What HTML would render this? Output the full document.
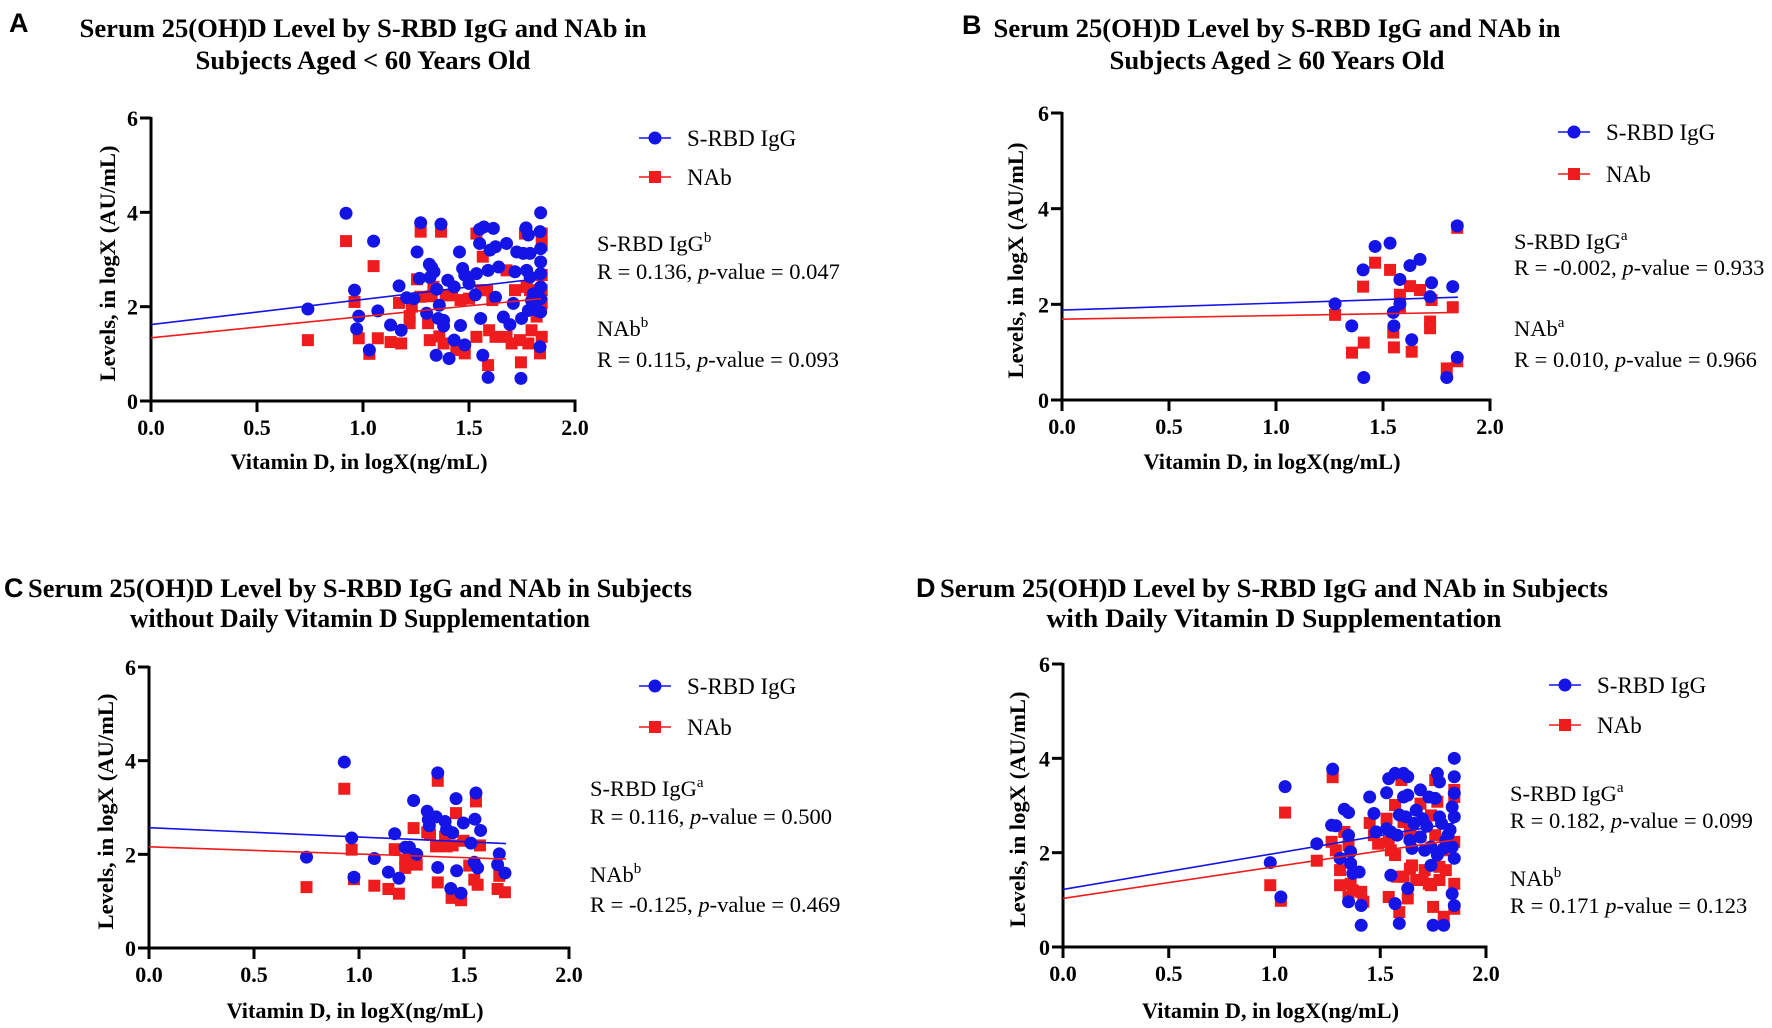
<!DOCTYPE html>
<html><head><meta charset="utf-8"><style>
html,body{margin:0;padding:0;background:#fff;}
svg{display:block;}
text{font-family:"Liberation Serif",serif;}
.t{font-weight:bold;font-size:26px;}
.tick{font-weight:bold;font-size:22px;}
.ax{font-weight:bold;font-size:22px;}
.lg{font-size:23px;}
.st{font-size:22.5px;}
.pl{font-family:"Liberation Sans",sans-serif;font-weight:bold;font-size:27px;}
</style></head><body>
<svg id="root" width="1772" height="1028" viewBox="0 0 1772 1028" xmlns="http://www.w3.org/2000/svg"></svg>
<script>
// Panel A data
const aBlueX=[0.74,0.92,0.96,0.98,0.97,1.03,1.05,1.07,1.13,1.17,1.18,1.206,1.24,1.255,1.272,1.266,1.30,1.313,1.324,1.335,1.316,1.348,1.36,1.345,1.368,1.355,1.38,1.38,1.406,1.40,1.43,1.43,1.455,1.46,1.47,1.48,1.48,1.50,1.53,1.535,1.55,1.57,1.615,1.555,1.55,1.565,1.59,1.599,1.625,1.59,1.64,1.662,1.625,1.677,1.693,1.709,1.725,1.717,1.745,1.748,1.756,1.769,1.780,1.788,1.772,1.788,1.780,1.795,1.803,1.838,1.835,1.838,1.838,1.838,1.838,1.838,1.838,1.835,1.819];
const aBlueY=[1.95,3.98,2.35,1.80,1.53,1.08,3.39,1.91,1.61,2.44,1.50,2.19,2.17,3.16,3.78,2.60,1.86,2.90,2.83,2.74,2.62,2.37,2.03,0.97,3.75,1.75,1.71,1.59,0.90,2.56,1.29,2.42,3.16,1.60,2.81,1.19,2.67,2.49,2.25,2.70,3.64,3.69,3.66,1.75,3.34,0.97,0.50,3.20,3.27,2.77,2.84,1.78,2.20,3.34,1.62,2.07,3.16,2.74,0.48,1.75,3.13,3.67,3.52,3.13,2.77,2.63,1.92,2.13,2.27,3.99,3.59,3.23,2.95,2.70,2.42,2.17,1.89,1.15,1.92];
const aRedX=[0.74,0.92,0.96,0.98,1.03,1.05,1.07,1.13,1.17,1.18,1.272,1.255,1.27,1.23,1.22,1.22,1.307,1.315,1.324,1.332,1.368,1.36,1.38,1.39,1.42,1.44,1.46,1.48,1.50,1.535,1.535,1.555,1.565,1.59,1.585,1.61,1.595,1.625,1.677,1.677,1.717,1.701,1.740,1.745,1.764,1.772,1.788,1.795,1.780,1.843,1.843,1.843,1.843,1.843,1.843,1.835,1.819];
const aRedY=[1.29,3.39,2.10,1.33,1.00,2.86,1.33,1.25,2.08,1.22,3.59,2.58,2.21,2.00,1.80,1.65,1.65,1.29,2.22,2.42,3.59,1.37,1.22,2.24,2.24,1.08,2.14,1.01,2.17,3.55,1.36,2.35,3.06,0.76,2.35,2.14,1.50,1.36,2.77,1.36,2.35,1.22,1.29,0.82,3.55,2.42,2.35,1.50,1.22,3.55,3.30,2.67,2.35,2.07,1.36,1.01,1.79];
const aFitBlue=[0,1.62,1.84,2.60];
const aFitRed=[0,1.34,1.84,2.17];
// Panel B data
const bBlueX=[1.276,1.354,1.41,1.407,1.463,1.533,1.579,1.579,1.548,1.551,1.626,1.673,1.634,1.727,1.72,1.826,1.798,1.847,1.847];
const bBlueY=[2.01,1.55,0.47,2.72,3.21,3.28,2.52,2.01,1.83,1.55,2.81,2.94,1.26,2.45,2.16,2.37,0.47,0.89,3.64];
const bRedX=[1.276,1.355,1.41,1.407,1.463,1.533,1.579,1.579,1.548,1.551,1.626,1.673,1.634,1.727,1.72,1.72,1.826,1.798,1.847,1.847];
const bRedY=[1.78,0.99,1.20,2.37,2.87,2.72,2.20,1.95,1.41,1.10,2.38,2.30,1.01,2.09,1.64,1.50,1.94,0.66,0.81,3.60];
const bFitBlue=[0,1.88,1.85,2.15];
const bFitRed=[0,1.69,1.85,1.83];
// Panel C data
const cBlueX=[0.75,0.93,0.965,0.976,1.073,1.14,1.17,1.19,1.22,1.24,1.275,1.26,1.325,1.33,1.335,1.367,1.375,1.375,1.41,1.417,1.446,1.462,1.465,1.437,1.486,1.497,1.533,1.552,1.557,1.549,1.565,1.579,1.668,1.66,1.695];
const cBlueY=[1.94,3.97,2.35,1.51,1.91,1.62,2.44,1.49,2.15,2.15,2.0,3.15,2.92,2.74,2.61,2.80,1.72,3.74,2.70,2.53,2.46,3.19,1.65,1.27,1.17,2.67,2.24,2.75,3.31,1.83,1.71,2.51,2.01,1.78,1.60];
const cRedX=[0.75,0.93,0.965,0.976,1.073,1.14,1.19,1.17,1.22,1.22,1.24,1.275,1.26,1.325,1.338,1.367,1.375,1.375,1.41,1.417,1.446,1.462,1.441,1.486,1.497,1.525,1.549,1.565,1.557,1.576,1.66,1.668,1.695];
const cRedY=[1.30,3.40,2.10,1.47,1.33,1.26,1.16,2.11,1.89,1.71,1.84,1.78,2.56,2.47,2.42,2.17,3.57,1.40,2.38,2.17,2.19,2.88,1.07,1.02,2.29,1.76,1.46,1.35,3.13,2.19,1.26,1.54,1.19];
const cFitBlue=[0,2.57,1.70,2.23];
const cFitRed=[0,2.16,1.70,1.90];
// Panel D data
const dBlueX=[0.98,1.03,1.05,1.20,1.275,1.27,1.29,1.31,1.33,1.35,1.35,1.35,1.36,1.36,1.37,1.40,1.41,1.41,1.45,1.47,1.48,1.53,1.53,1.54,1.55,1.55,1.57,1.57,1.58,1.59,1.59,1.61,1.61,1.62,1.63,1.63,1.63,1.64,1.65,1.66,1.67,1.69,1.69,1.70,1.71,1.72,1.73,1.74,1.74,1.75,1.76,1.77,1.77,1.78,1.78,1.79,1.80,1.80,1.81,1.82,1.83,1.84,1.84,1.85,1.85,1.85,1.85,1.85,1.85,1.84];
const dBlueY=[1.79,1.06,3.40,2.19,3.77,2.58,2.57,1.88,2.92,2.85,0.96,2.37,1.77,2.02,1.56,1.59,0.88,0.46,3.18,2.83,2.44,3.27,2.51,3.57,2.44,1.52,0.92,3.68,2.37,2.80,0.50,3.68,3.18,2.76,1.24,3.61,3.22,2.26,2.09,2.62,2.90,2.33,3.33,2.72,2.05,2.56,3.18,1.73,2.12,0.46,3.15,3.68,1.95,2.76,3.50,2.62,0.46,2.09,2.26,2.37,2.48,2.97,1.13,4.00,3.61,3.26,2.76,1.88,0.88,2.12];
const dRedX=[0.98,1.03,1.05,1.20,1.275,1.27,1.29,1.31,1.31,1.33,1.35,1.35,1.36,1.37,1.41,1.42,1.45,1.47,1.49,1.53,1.54,1.54,1.55,1.57,1.57,1.58,1.59,1.60,1.61,1.61,1.63,1.64,1.64,1.65,1.67,1.69,1.69,1.70,1.71,1.73,1.74,1.74,1.75,1.76,1.76,1.77,1.78,1.78,1.80,1.80,1.81,1.82,1.85,1.85,1.85,1.85,1.85];
const dRedY=[1.31,0.98,2.85,1.83,3.60,2.23,2.05,1.63,1.31,2.44,1.06,2.16,1.34,1.20,1.17,0.96,2.63,2.37,2.19,2.72,2.23,1.06,2.05,3.01,1.95,1.49,0.74,3.54,2.65,1.49,1.03,2.41,1.66,1.73,1.42,3.04,2.34,1.42,1.63,1.34,2.79,1.31,0.85,3.54,2.37,3.08,1.42,1.70,0.64,2.05,1.63,2.19,3.18,2.23,1.34,0.81,3.33];
const dFitBlue=[0,1.22,1.85,2.63];
const dFitRed=[0,1.03,1.85,2.27];
const yTicks=[0,2,4,6];
const xTicks=[0.0,0.5,1.0,1.5,2.0];
const xTickLabels=["0.0","0.5","1.0","1.5","2.0"];

const NS="http://www.w3.org/2000/svg";
const root=document.getElementById('root');
function mk(tag,attrs,parent,txt){const e=document.createElementNS(NS,tag);for(const k in attrs)e.setAttribute(k,attrs[k]);if(txt!==undefined)e.textContent=txt;(parent||root).appendChild(e);return e;}

const panels=[
 {id:'a',letter:'A',lx:9,ly:32,x0:151,x2:575,y0:401,y6:118,
  t1:'Serum 25(OH)D Level by S-RBD IgG and NAb in',t2:'Subjects Aged < 60 Years Old',tcx:363,ty1:37,ty2:69,tw1:567,tw2:335,
  ytx:107,xty:469,lgx:655,lgy1:138,lgy2:177,stx:597,sty:[243,271,328,359],
  s1:'S-RBD IgG',s1sup:'b',r1:'R = 0.136, ',p1:' = 0.047',s2sup:'b',r2:'R = 0.115, ',p2:' = 0.093',
  bx:aBlueX,by:aBlueY,rx:aRedX,ry:aRedY,fb:aFitBlue,fr:aFitRed},
 {id:'b',letter:'B',lx:962,ly:34,x0:1062,x2:1490,y0:400,y6:113,
  t1:'Serum 25(OH)D Level by S-RBD IgG and NAb in',t2:'Subjects Aged \u2265 60 Years Old',tcx:1277,ty1:37,ty2:69,tw1:567,tw2:335,
  ytx:1015,xty:469,lgx:1574,lgy1:132,lgy2:174,stx:1514,sty:[241,267,328,359],
  s1:'S-RBD IgG',s1sup:'a',r1:'R = -0.002, ',p1:' = 0.933',s2sup:'a',r2:'R = 0.010, ',p2:' = 0.966',
  bx:bBlueX,by:bBlueY,rx:bRedX,ry:bRedY,fb:bFitBlue,fr:bFitRed},
 {id:'c',letter:'C',lx:4,ly:597,x0:149,x2:569,y0:948,y6:667,
  t1:'Serum 25(OH)D Level by S-RBD IgG and NAb in Subjects',t2:'without Daily Vitamin D Supplementation',tcx:360,ty1:597,ty2:627,tw1:664,tw2:460,
  ytx:105,xty:1018,lgx:655,lgy1:686,lgy2:727,stx:590,sty:[788,816,874,904],
  s1:'S-RBD IgG',s1sup:'a',r1:'R = 0.116, ',p1:' = 0.500',s2sup:'b',r2:'R = -0.125, ',p2:' = 0.469',
  bx:cBlueX,by:cBlueY,rx:cRedX,ry:cRedY,fb:cFitBlue,fr:cFitRed},
 {id:'d',letter:'D',lx:916,ly:597,x0:1063,x2:1486,y0:947,y6:664,
  t1:'Serum 25(OH)D Level by S-RBD IgG and NAb in Subjects',t2:'with Daily Vitamin D Supplementation',tcx:1274,ty1:597,ty2:627,tw1:668,tw2:455,
  ytx:1017,xty:1018,lgx:1565,lgy1:685,lgy2:725,stx:1510,sty:[793,820,878,905],
  s1:'S-RBD IgG',s1sup:'a',r1:'R = 0.182, ',p1:' = 0.099',s2sup:'b',r2:'R = 0.171 ',p2:' = 0.123',
  bx:dBlueX,by:dBlueY,rx:dRedX,ry:dRedY,fb:dFitBlue,fr:dFitRed}
];

panels.forEach(P=>{
  const g=mk('g',{});
  
  
  const sx=v=>P.x0+(P.x2-P.x0)*v/2;
  const sy=v=>P.y0-(P.y0-P.y6)*v/6;
  const L=mk('text',{x:P.lx,y:P.ly,class:'pl'},g,P.letter);
  
  
  const T1=mk('text',{x:P.tcx,y:P.ty1,class:'t','text-anchor':'middle',textLength:P.tw1,lengthAdjust:'spacingAndGlyphs'},g,P.t1);
  
  
  const T2=mk('text',{x:P.tcx,y:P.ty2,class:'t','text-anchor':'middle',textLength:P.tw2,lengthAdjust:'spacingAndGlyphs'},g,P.t2);
  
  
  const ya=mk('line',{x1:P.x0,y1:P.y6-1,x2:P.x0,y2:P.y0+1.5,stroke:'#000','stroke-width':3},g);
  
  
  const xa=mk('line',{x1:P.x0-11,y1:P.y0,x2:P.x2+1.5,y2:P.y0,stroke:'#000','stroke-width':3},g);
  
  
  yTicks.forEach(t=>{
    mk('line',{x1:P.x0-11,y1:sy(t),x2:P.x0,y2:sy(t),stroke:'#000','stroke-width':3},g);
    const tl=mk('text',{x:P.x0-13,y:sy(t)+8,class:'tick','text-anchor':'end'},g,String(t));
    
    
  });
  xTicks.forEach((t,i)=>{
    mk('line',{x1:sx(t),y1:P.y0,x2:sx(t),y2:P.y0+11,stroke:'#000','stroke-width':3},g);
    const tl=mk('text',{x:sx(t),y:P.y0+34,class:'tick','text-anchor':'middle'},g,xTickLabels[i]);
    
    
  });
  const ycy=(P.y0+P.y6)/2+4;
  const yt=mk('text',{x:0,y:0,class:'ax','text-anchor':'middle',transform:`translate(${P.ytx+8},${ycy}) rotate(-90)`,textLength:236,lengthAdjust:'spacingAndGlyphs'},g,'Levels, in logX (AU/mL)');
  
  
  const xt=mk('text',{x:(P.x0+P.x2)/2-4,y:P.xty,class:'ax','text-anchor':'middle',textLength:257,lengthAdjust:'spacingAndGlyphs'},g,'Vitamin D, in logX(ng/mL)');
  
  
  P.rx.forEach((v,i)=>{
    const r=mk('rect',{x:sx(v)-6,y:sy(P.ry[i])-6,width:12,height:12,fill:'#ee1c1c'},g);
    
    
  });
  P.bx.forEach((v,i)=>{
    const c=mk('circle',{cx:sx(v),cy:sy(P.by[i]),r:6.5,fill:'#1414e6'},g);
    
    
  });
  const fb=mk('line',{x1:sx(P.fb[0]),y1:sy(P.fb[1]),x2:sx(P.fb[2]),y2:sy(P.fb[3]),stroke:'#1414e6','stroke-width':1.6},g);
  
  
  const fr=mk('line',{x1:sx(P.fr[0]),y1:sy(P.fr[1]),x2:sx(P.fr[2]),y2:sy(P.fr[3]),stroke:'#ee1c1c','stroke-width':1.6},g);
  
  
  const l1=mk('g',{},g);
  
  
  mk('line',{x1:P.lgx-16,y1:P.lgy1,x2:P.lgx+16,y2:P.lgy1,stroke:'#1414e6','stroke-width':1.6},l1);
  mk('circle',{cx:P.lgx,cy:P.lgy1,r:6.5,fill:'#1414e6'},l1);
  mk('text',{x:P.lgx+32,y:P.lgy1+8,class:'lg'},l1,'S-RBD IgG');
  const l2=mk('g',{},g);
  
  
  mk('line',{x1:P.lgx-16,y1:P.lgy2,x2:P.lgx+16,y2:P.lgy2,stroke:'#ee1c1c','stroke-width':1.6},l2);
  mk('rect',{x:P.lgx-6,y:P.lgy2-6,width:12,height:12,fill:'#ee1c1c'},l2);
  mk('text',{x:P.lgx+32,y:P.lgy2+8,class:'lg'},l2,'NAb');
  const s=mk('g',{},g);
  
  
  const a1=mk('text',{x:P.stx,y:P.sty[0]+8,class:'st'},s,P.s1);
  mk('tspan',{dy:-9,'font-size':15},a1,P.s1sup);
  const b1=mk('text',{x:P.stx,y:P.sty[1]+8,class:'st'},s,P.r1);
  mk('tspan',{'font-style':'italic'},b1,'p');
  mk('tspan',{},b1,'-value'+P.p1);
  const a2=mk('text',{x:P.stx,y:P.sty[2]+8,class:'st'},s,'NAb');
  mk('tspan',{dy:-9,'font-size':15},a2,P.s2sup);
  const b2=mk('text',{x:P.stx,y:P.sty[3]+8,class:'st'},s,P.r2);
  mk('tspan',{'font-style':'italic'},b2,'p');
  mk('tspan',{},b2,'-value'+P.p2);
});
</script>
</body></html>
